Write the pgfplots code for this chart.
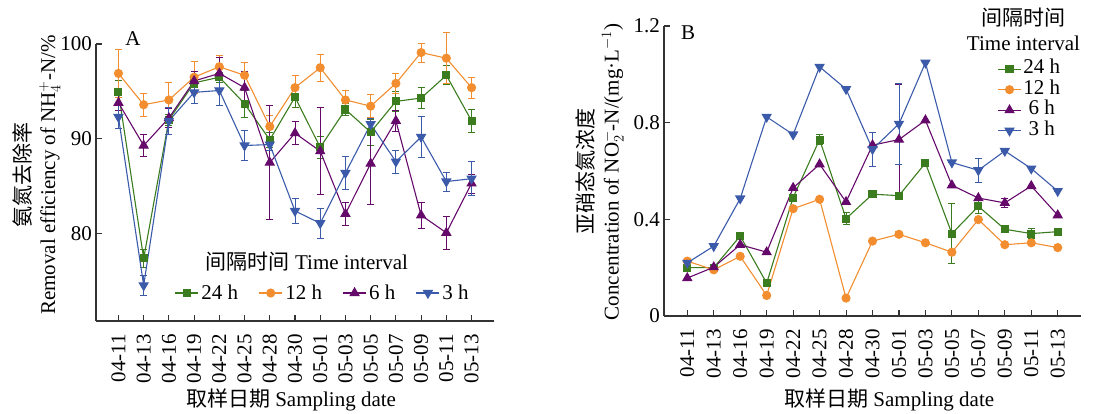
\documentclass[border=0pt]{standalone}
\usepackage{fontspec}
\setmainfont{Liberation Serif}
\newfontfamily\cjk{Noto Sans CJK SC}
\usepackage{pgfplots}
\usepackage{pgfplotstable}
\pgfplotsset{compat=1.18}
\definecolor{cgreen}{HTML}{3B7D1E}
\definecolor{corange}{HTML}{F28E2F}
\definecolor{cpurple}{HTML}{650A6A}
\definecolor{cblue}{HTML}{3B5BAA}

% Panel A: removal efficiency (%), a=24h b=12h c=6h d=3h, e* = error
\pgfplotstableread{
x a ea b eb c ec d ed
0 94.9 1.3 96.9 2.5 93.8 0.8 92.3 1.2
1 77.4 1.0 93.6 1.2 89.3 1.2 74.55 1.1
2 92.0 0.6 94.1 1.8 92.2 1.0 91.9 1.4
3 95.9 0.5 96.5 1.7 96.1 1.0 94.9 1.2
4 96.5 0.5 97.6 1.2 96.9 1.7 95.1 1.6
5 93.7 1.4 96.7 1.4 95.4 1.7 89.3 1.6
6 89.9 0.8 91.3 1.2 87.5 6.0 89.4 0.6
7 94.4 1.1 95.4 1.3 90.6 1.2 82.4 1.35
8 89.1 1.2 97.5 1.4 88.7 4.6 81.1 1.6
9 93.1 0.6 94.1 1.0 82.1 1.2 86.4 1.7
10 90.7 1.4 93.45 1.2 87.4 4.3 91.55 0.6
11 93.95 1.1 95.85 1.1 91.9 1.1 87.6 1.2
12 94.3 1.1 99.1 1.0 81.95 1.4 90.2 2.2
13 96.7 1.0 98.5 2.7 80.1 1.7 85.5 1.0
14 91.9 1.2 95.4 1.1 85.3 1.0 85.8 1.8
}\dataA

% Panel B: nitrite concentration (mg/L)
\pgfplotstableread{
x a ea b eb c ec d ed
0 0.200 0 0.227 0 0.157 0 0.220 0
1 0.200 0 0.191 0 0.202 0 0.289 0
2 0.331 0 0.247 0 0.295 0 0.486 0
3 0.136 0 0.085 0 0.264 0 0.824 0
4 0.490 0 0.444 0 0.530 0 0.751 0
5 0.730 0.02 0.483 0 0.628 0 1.031 0
6 0.403 0.025 0.074 0 0.472 0 0.939 0
7 0.504 0 0.310 0 0.707 0 0.690 0.07
8 0.498 0 0.338 0.01 0.730 0.23 0.795 0.167
9 0.633 0 0.303 0 0.810 0 1.048 0
10 0.341 0.125 0.264 0 0.541 0 0.635 0
11 0.454 0.03 0.399 0.01 0.488 0 0.603 0.05
12 0.359 0 0.295 0 0.468 0.02 0.683 0
13 0.341 0.02 0.303 0.01 0.538 0 0.610 0
14 0.349 0 0.283 0 0.417 0 0.517 0
}\dataB

\newcommand{\fs}{\fontsize{21}{25}\selectfont}

\pgfplotsset{
  mystyle/.style={
    scale only axis,
    axis x line*=bottom, axis y line*=left,
    axis line style={line width=1.1pt, black!80},
    tick style={line width=1.1pt, black!80},
    tick align=inside,
    major tick length=6pt,
    xtick={0,...,14},
    xticklabels={04-11,04-13,04-16,04-19,04-22,04-25,04-28,04-30,05-01,05-03,05-05,05-07,05-09,05-11,05-13},
    xticklabel style={rotate=90, anchor=east, inner sep=0pt},
    xticklabel shift=13pt,
    yticklabel style={inner sep=0pt},
    yticklabel shift=4pt,
    tick label style={font=\fs},
    label style={font=\fs},
    /pgf/number format/assume math mode=true,
    clip=false,
    legend image code/.code={\draw[mark repeat=2,mark phase=2,##1] plot coordinates {(0pt,0pt) (11.5pt,0pt) (23pt,0pt)};},
  },
  ser/.style={color=#1, line width=1.1pt, mark options={fill=#1, solid},
    /pgfplots/error bars/y dir=both, /pgfplots/error bars/y explicit,
    /pgfplots/error bars/error bar style={line width=0.8pt, color=#1},
    /pgfplots/error bars/error mark options={rotate=90, mark size=3.5pt, line width=0.8pt, color=#1}},
}

\begin{document}
\begin{tikzpicture}
\useasboundingbox (0,0) rectangle (1099pt,414pt);

% ---------------- Panel A ----------------
\begin{axis}[mystyle,
  at={(96pt,93pt)}, anchor=south west,
  width=398pt, height=277pt,
  xmin=-0.89, xmax=14.89, ymin=70.8, ymax=100,
  ytick={80,90,100},
  ylabel={{\cjk 氨氮去除率}\\Removal efficiency of NH$_4^+$-N/\%},
  ylabel style={at={(axis description cs:-0.150,0.527)}, anchor=center, align=center},
  xlabel={{\cjk 取样日期} Sampling date},
  xlabel style={at={(axis description cs:0.49,-0.285)}, anchor=center},
  legend columns=4,
  legend style={at={(0.19,0.101)}, anchor=west, draw=none, fill=none, font=\fs,
    nodes={inner sep=2.5pt}, /tikz/every even column/.append style={column sep=18pt}},
]
\addplot[ser=cgreen, mark=square*, mark size=3.5pt] table[x=x, y=a, y error=ea] {\dataA};
\addplot[ser=corange, mark=*, mark size=4pt] table[x=x, y=b, y error=eb] {\dataA};
\addplot[ser=cpurple, mark=triangle*, mark size=5pt] table[x=x, y=c, y error=ec] {\dataA};
\addplot[ser=cblue, mark=triangle*, mark size=5pt, mark options={rotate=180, fill=cblue, solid}] table[x=x, y=d, y error=ed] {\dataA};
\legend{24 h, 12 h, 6 h, 3 h}
\node[font=\fs] at (rel axis cs:0.093,1.02) {A};
\node[font=\fs] at (rel axis cs:0.53,0.213) {{\cjk 间隔时间} Time interval};
\end{axis}

% ---------------- Panel B ----------------
\begin{axis}[mystyle,
  at={(664pt,98pt)}, anchor=south west,
  width=417pt, height=290pt,
  xmin=-0.88, xmax=14.88, ymin=0, ymax=1.2,
  ytick={0,0.4,0.8,1.2}, yticklabels={0,0.4,0.8,1.2},
  ylabel={{\cjk 亚硝态氮浓度}\\Concentration of NO$_2^-$-N/(mg·L$^{-1}$)},
  ylabel style={at={(axis description cs:-0.154,0.497)}, anchor=center, align=center},
  xlabel={{\cjk 取样日期} Sampling date},
  xlabel style={at={(axis description cs:0.54,-0.29)}, anchor=center},
  legend style={at={(0.792,0.894)}, anchor=north west, draw=none, fill=none, font=\fs,
    nodes={inner sep=1.75pt, text height=13pt, text depth=4pt}, row sep=0pt},
]
\addplot[ser=cgreen, mark=square*, mark size=3.5pt] table[x=x, y=a, y error=ea] {\dataB};
\addplot[ser=corange, mark=*, mark size=4pt] table[x=x, y=b, y error=eb] {\dataB};
\addplot[ser=cpurple, mark=triangle*, mark size=5pt] table[x=x, y=c, y error=ec] {\dataB};
\addplot[ser=cblue, mark=triangle*, mark size=5pt, mark options={rotate=180, fill=cblue, solid}] table[x=x, y=d, y error=ed] {\dataB};
\legend{24 h, 12 h, 6 h, 3 h}
\node[font=\fs] at (rel axis cs:0.058,0.976) {B};
\node[font=\fs] at (rel axis cs:0.861,1.028) {\cjk 间隔时间};
\node[font=\fs] at (rel axis cs:0.862,0.941) {Time interval};
\end{axis}
\end{tikzpicture}
\end{document}
